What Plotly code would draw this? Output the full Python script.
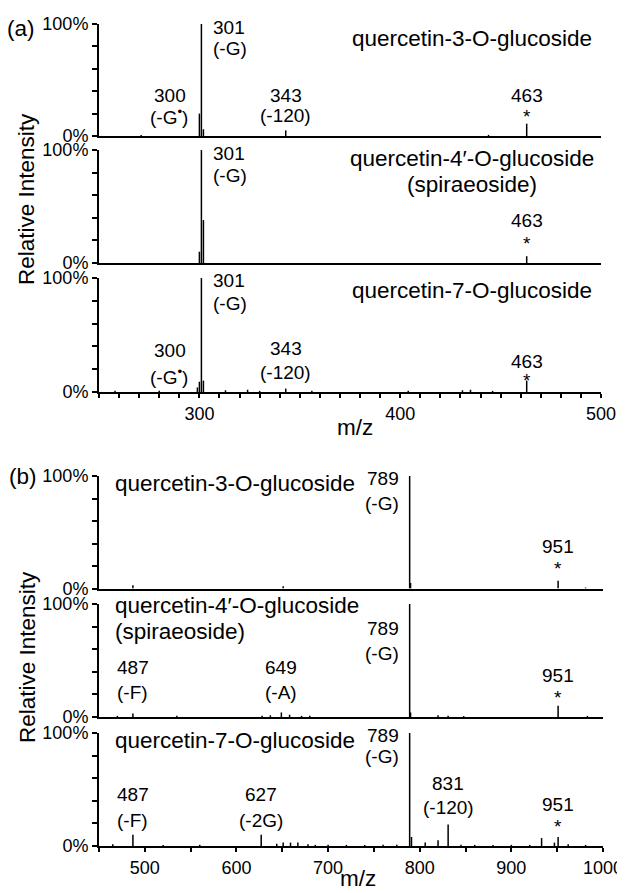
import plotly.graph_objects as go

# page body adds an 8px margin, so the figure is sized to the visible part
OFF = 8
FW, FH = 625 - OFF, 893 - OFF
FONT = "Liberation Sans, Arial, Helvetica, sans-serif"

# ---------------- data ----------------
# panel (a): m/z 250-500
a1_mz = [271, 300, 301, 302, 343, 444, 463]
a1_int = [1, 20, 100, 6, 5, 1, 11]

a2_mz = [300, 301, 302, 463]
a2_int = [10, 100, 38, 6]

a3_mz = [258, 280, 299, 300, 301, 302, 313, 324, 330, 343, 356, 404, 431, 435, 446, 463]
a3_int = [1, 1, 4, 9, 100, 10, 1.5, 2, 1, 3, 1, 1, 1.5, 2, 1, 10]

# panel (b): m/z 450-1000
b1_mz = [487, 651, 789, 790, 951, 981]
b1_int = [3, 2, 100, 5, 7, 1]

b2_mz = [470, 487, 535, 628, 637, 649, 658, 671, 680, 789, 790, 820, 831, 848, 951, 983]
b2_int = [1, 3, 1, 1, 1.5, 4, 2, 1, 1, 100, 4, 1.5, 1, 0.8, 10, 1]

b3_mz = [465, 487, 520, 560, 627, 644, 651, 659, 667, 678, 686, 700, 720, 740, 760, 775,
         789, 791, 806, 820, 831, 845, 860, 880, 900, 920, 933, 947, 951, 962, 981]
b3_int = [1.5, 10, 0.8, 1, 10, 2, 3, 3, 3, 1.5, 1, 1, 1, 0.8, 1, 1,
          100, 8, 3, 5, 19, 1, 1, 0.8, 1, 1, 7, 3, 8, 1.5, 1]

compound_3 = "quercetin-3-O-glucoside"
compound_4 = "quercetin-4\u2032-O-glucoside"
compound_4_alias = "(spiraeoside)"
compound_7 = "quercetin-7-O-glucoside"

a_ticks = list(range(250, 501, 10))
b_ticks = list(range(450, 1001, 50))
y_ticks = [0, 20, 40, 60, 80, 100]
y_ticktext = ["0%", "", "", "", "", "100%"]

spectra = [(a1_mz, a1_int), (a2_mz, a2_int), (a3_mz, a3_int),
           (b1_mz, b1_int), (b2_mz, b2_int), (b3_mz, b3_int)]

# ---------------- layout geometry (window pixels) ----------------
rows_px = [(24, 136), (150, 263), (278, 392), (476, 588.5), (604, 717), (733, 846)]


def px(p):
    return (p - OFF) / FW


def py(p):
    return 1 - (p - OFF) / FH


xdom_a = [px(99), px(601)]
xdom_b = [px(99), px(603)]

fig = go.Figure()

for i, (mz, inten) in enumerate(spectra):
    xs, ys = [], []
    for m, h in zip(mz, inten):
        xs += [m, m, None]
        ys += [0, h, None]
    n = "" if i == 0 else str(i + 1)
    fig.add_trace(go.Scatter(x=xs, y=ys, mode="lines",
                             line=dict(color="black", width=1.5),
                             xaxis="x" + n, yaxis="y" + n,
                             showlegend=False, hoverinfo="skip"))

layout = dict(width=FW, height=FH, margin=dict(l=0, r=0, t=0, b=0, autoexpand=False),
              plot_bgcolor="white", paper_bgcolor="white",
              font=dict(family=FONT, color="black", size=18))

for i, (top, bot) in enumerate(rows_px):
    n = "" if i == 0 else str(i + 1)
    is_a = i < 3
    bottom = i in (2, 5)
    xa = dict(domain=xdom_a if is_a else xdom_b,
              range=[250, 500] if is_a else [450, 1000],
              anchor="y" + n, showline=True, linecolor="black", linewidth=2,
              showgrid=False, zeroline=False, automargin=False)
    if bottom:
        tv = a_ticks if is_a else b_ticks
        xa.update(tickvals=tv,
                  ticktext=[str(t) if t % 100 == 0 else "" for t in tv],
                  ticks="outside", ticklen=4, tickwidth=1.5, tickcolor="black",
                  tickfont=dict(size=18, family=FONT))
    else:
        xa.update(showticklabels=False, ticks="")
    ya = dict(domain=[py(bot), py(top)], range=[0, 100], anchor="x" + n,
              showline=True, linecolor="black", linewidth=2, showgrid=False,
              zeroline=False, tickvals=y_ticks, ticktext=y_ticktext,
              ticks="outside", ticklen=5, tickwidth=1.5, tickcolor="black",
              tickfont=dict(size=18, family=FONT), automargin=False)
    layout["xaxis" + n] = xa
    layout["yaxis" + n] = ya

fig.update_layout(**layout)

ann = []


def lab(i, x, y, text, xanchor="center", xshift=0, size=19):
    n = "" if i == 0 else str(i + 1)
    ann.append(dict(x=x, y=y, xref="x" + n, yref="y" + n, text=text,
                    showarrow=False, xanchor=xanchor, yanchor="middle",
                    xshift=xshift, font=dict(size=size, family=FONT)))


def ptext(xp, ypix, text, xanchor="center", size=22.5, angle=0, yanchor="middle"):
    ann.append(dict(x=px(xp), y=py(ypix), xref="paper", yref="paper", text=text,
                    showarrow=False, xanchor=xanchor, yanchor=yanchor,
                    textangle=angle, font=dict(size=size, family=FONT)))


G = "(-G<sup>\u2022</sup>)"

# panel (a) top
lab(0, 301, 97, "301", "left", 10)
lab(0, 301, 78.5, "(-G)", "left", 10)
lab(0, 300, 36.6, "300", "right", -11)
lab(0, 300, 17.9, G, "right", -9)
lab(0, 343, 36.6, "343")
lab(0, 343, 18.7, "(-120)")
lab(0, 463, 36.6, "463")
lab(0, 463, 17, "*")
# panel (a) middle
lab(1, 301, 97, "301", "left", 10)
lab(1, 301, 77, "(-G)", "left", 10)
lab(1, 463, 37.2, "463")
lab(1, 463, 17.5, "*")
# panel (a) bottom
lab(2, 301, 97.4, "301", "left", 10)
lab(2, 301, 78, "(-G)", "left", 10)
lab(2, 300, 36, "300", "right", -11)
lab(2, 300, 14, G, "right", -9)
lab(2, 343, 38.6, "343")
lab(2, 343, 17.5, "(-120)")
lab(2, 463, 27, "463")
lab(2, 463, 10.5, "*")
# panel (b) top
lab(3, 789, 98, "789", "right", -9)
lab(3, 789, 76, "(-G)", "right", -9)
lab(3, 951, 37, "951")
lab(3, 951, 17.5, "*")
# panel (b) middle
lab(4, 487, 44, "487")
lab(4, 487, 22, "(-F)")
lab(4, 649, 44, "649")
lab(4, 649, 22, "(-A)")
lab(4, 789, 78, "789", "right", -9)
lab(4, 789, 56.6, "(-G)", "right", -9)
lab(4, 951, 37, "951")
lab(4, 951, 17, "*")
# panel (b) bottom
lab(5, 789, 98, "789", "right", -9)
lab(5, 789, 79, "(-G)", "right", -9)
lab(5, 487, 46, "487")
lab(5, 487, 23, "(-F)")
lab(5, 627, 46, "627")
lab(5, 627, 23, "(-2G)")
lab(5, 831, 55, "831")
lab(5, 831, 34.5, "(-120)")
lab(5, 951, 37, "951")
lab(5, 951, 17.5, "*")

# compound names
ptext(472, 38, compound_3)
ptext(472, 158, compound_4)
ptext(472, 184, compound_4_alias)
ptext(472, 291, compound_7)
ptext(113, 483, compound_3, "left")
ptext(113, 605, compound_4, "left")
ptext(113, 631, compound_4_alias, "left")
ptext(113, 740, compound_7, "left")

# panel letters, axis titles
ptext(21, 29, "(a)")
ptext(23, 476, "(b)")
ptext(27, 199, "Relative Intensity", angle=-90)
ptext(27, 657, "Relative Intensity", angle=-90)
ptext(355, 427, "m/z")
ptext(358, 893, "m/z", yanchor="bottom")

fig.update_layout(annotations=ann)
fig.write_html("out.html")
